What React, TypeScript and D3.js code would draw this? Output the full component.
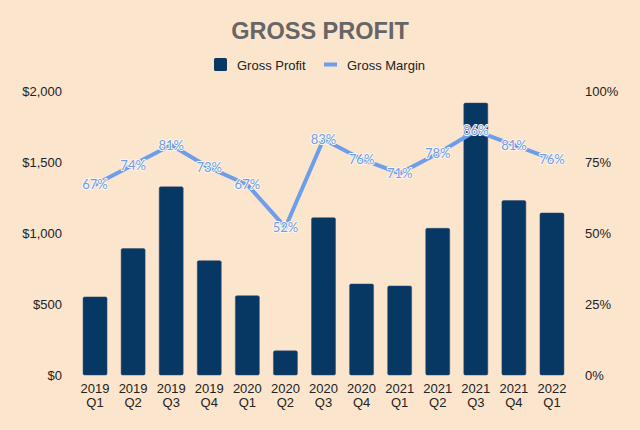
import React from "react";
import * as d3 from "d3";

const categories = ["2019 Q1","2019 Q2","2019 Q3","2019 Q4","2020 Q1","2020 Q2","2020 Q3","2020 Q4","2021 Q1","2021 Q2","2021 Q3","2021 Q4","2022 Q1"];
const grossProfit = [550, 890, 1325, 805, 558, 170, 1108, 641, 627, 1033, 1915, 1228, 1141];
const grossMargin = [67, 74, 81, 73, 67, 52, 83, 76, 71, 78, 86, 81, 76];
const leftTicks = [0, 500, 1000, 1500, 2000];
const rightTicks = [0, 25, 50, 75, 100];

const W = 640, H = 430;
const BG = "#fce5cd";
const BAR = "#073763";
const LINE = "#6d9eeb";
const FONT = "Arial, 'Liberation Sans', sans-serif";

export default function App() {
  const x = d3.scaleBand<string>().domain(categories).range([76, 571]).paddingInner(0.37).paddingOuter(0.185);
  const yL = d3.scaleLinear().domain([0, 2000]).range([375, 91]);
  const yR = d3.scaleLinear().domain([0, 100]).range([375, 91]);
  const cx = (c: string) => (x(c) as number) + x.bandwidth() / 2;
  const line = d3.line<number>().x((_, i) => cx(categories[i])).y(d => yR(d));
  const fmt = d3.format("$,");

  return (
    <svg width={W} height={H} style={{ position: "absolute", left: 0, top: 0 }} fontFamily={FONT}>
      <rect width={W} height={H} fill={BG} />
      <text x={320} y={39} textAnchor="middle" fontSize={23.5} fontWeight="bold" fill="#666666">GROSS PROFIT</text>
      <rect x={214} y={58} width={13} height={13} rx={1.5} fill={BAR} />
      <text x={237} y={70} fontSize={13} fill="#222">Gross Profit</text>
      <line x1={324} x2={337} y1={64.5} y2={64.5} stroke={LINE} strokeWidth={4} />
      <text x={347} y={70} fontSize={13} fill="#222">Gross Margin</text>

      {leftTicks.map(t => (
        <text key={"l" + t} x={62} y={yL(t)} dy="0.35em" textAnchor="end" fontSize={13} fill="#222">{fmt(t)}</text>
      ))}
      {rightTicks.map(t => (
        <text key={"r" + t} x={585} y={yR(t)} dy="0.35em" textAnchor="start" fontSize={13} fill="#222">{t + "%"}</text>
      ))}

      {categories.map((c, i) => (
        <rect key={c} x={x(c)} y={yL(grossProfit[i])} width={x.bandwidth()} height={yL(0) - yL(grossProfit[i])}
          rx={1.5} fill={BAR} stroke="#2a4f78" strokeWidth={0.5} />
      ))}

      {categories.map(c => {
        const [yr, q] = c.split(" ");
        return (
          <text key={"x" + c} x={cx(c)} y={393} textAnchor="middle" fontSize={13} fill="#222">
            <tspan x={cx(c)}>{yr}</tspan>
            <tspan x={cx(c)} dy={14}>{q}</tspan>
          </text>
        );
      })}

      <path d={line(grossMargin) || ""} fill="none" stroke={LINE} strokeWidth={4} strokeLinejoin="round" />

      {categories.map((c, i) => (
        <text key={"m" + c} x={cx(c)} y={yR(grossMargin[i])} dy="0.36em" textAnchor="middle"
          fontSize={13} fontFamily="Lato, 'Open Sans', sans-serif" fill={LINE}
          stroke="#fff4e8" strokeWidth={2} paintOrder="stroke" strokeLinejoin="round">{grossMargin[i] + "%"}</text>
      ))}
    </svg>
  );
}
